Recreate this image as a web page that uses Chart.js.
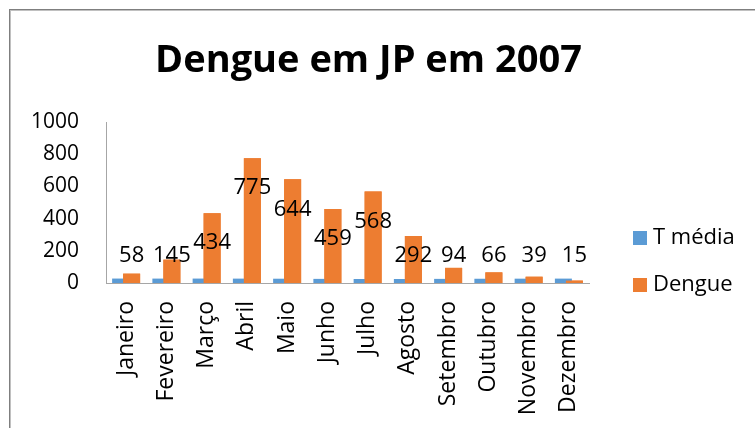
<!DOCTYPE html>
<html>
<head>
<meta charset="utf-8">
<script src="https://cdn.jsdelivr.net/npm/chart.js@4/dist/chart.umd.min.js"></script>
<style>
html,body{margin:0;padding:0;background:#fff;}
#wrap{width:755px;height:428px;position:relative;}
</style>
</head>
<body>
<div id="wrap"><canvas id="c" width="755" height="428"></canvas></div>
<script>
const titleText = 'Dengue em JP em 2007';
const categories = ['Janeiro','Fevereiro','Março','Abril','Maio','Junho','Julho','Agosto','Setembro','Outubro','Novembro','Dezembro'];
const seriesNames = ['T média','Dengue'];
const tMedia = [27.6, 27.4, 27.5, 27.2, 26.6, 25.6, 25.0, 24.9, 25.6, 26.4, 26.9, 27.3];
const dengue = [58, 145, 434, 775, 644, 459, 568, 292, 94, 66, 39, 15];
const yMin = 0, yMax = 1000, yStep = 200;

const BLUE = '#5B9BD5', ORANGE = '#ED7D31';
const FONT = "'Open Sans', 'DejaVu Sans', sans-serif";

const frame = {
  id: 'frame',
  beforeDraw(chart) {
    const ctx = chart.ctx;
    ctx.save();
    ctx.fillStyle = '#ffffff';
    ctx.fillRect(0, 0, chart.width, chart.height);
    ctx.fillStyle = '#7f7f7f';
    ctx.fillRect(9, 9, chart.width - 9, 1);
    ctx.fillRect(9, 9, 1, chart.height - 9);
    ctx.fillStyle = '#c0c0c0';
    ctx.fillRect(10, 10, chart.width - 10, 1);
    ctx.fillRect(10, 10, 1, chart.height - 10);
    ctx.restore();
  }
};

const frontAndLabels = {
  id: 'frontAndLabels',
  afterDatasetsDraw(chart) {
    const ctx = chart.ctx;
    const meta = chart.getDatasetMeta(1);
    const yScale = chart.scales.y;
    const zeroY = yScale.getPixelForValue(0);
    ctx.save();
    meta.data.forEach(el => el.draw(ctx));
    ctx.fillStyle = '#000';
    ctx.font = '22px ' + FONT;
    ctx.textAlign = 'center';
    ctx.textBaseline = 'middle';
    meta.data.forEach((el, i) => {
      const y = Math.min(el.y + 30, zeroY - 27);
      ctx.fillText(String(chart.data.datasets[1].data[i]), el.x, y);
    });
    ctx.restore();
  }
};

const sideLegend = {
  id: 'sideLegend',
  afterDraw(chart) {
    const ctx = chart.ctx;
    const x0 = chart.chartArea.right + 44;
    const ys = [238, 285];
    ctx.save();
    ctx.font = '22px ' + FONT;
    ctx.textAlign = 'left';
    ctx.textBaseline = 'middle';
    chart.data.datasets.forEach((ds, i) => {
      ctx.fillStyle = ds.backgroundColor;
      ctx.fillRect(x0, ys[i] - 7, 14, 14);
      ctx.fillStyle = '#000';
      ctx.fillText(ds.label, x0 + 20, ys[i]);
    });
    ctx.restore();
  }
};

new Chart(document.getElementById('c'), {
  type: 'bar',
  data: {
    labels: categories,
    datasets: [
      { label: seriesNames[0], data: tMedia, backgroundColor: BLUE, categoryPercentage: 22 / 40.25, barPercentage: 17 / 11 },
      { label: seriesNames[1], data: dengue, backgroundColor: ORANGE, categoryPercentage: 22 / 40.25, barPercentage: 17 / 11 }
    ]
  },
  options: {
    responsive: false,
    animation: false,
    devicePixelRatio: 1,
    layout: { padding: { left: 0, right: 18, top: 0, bottom: 0 } },
    plugins: {
      legend: { display: false },
      tooltip: { enabled: false },
      title: {
        display: true,
        text: titleText,
        color: '#000',
        font: { family: FONT, size: 38, weight: 'bold', lineHeight: 1.2 },
        padding: { top: 38, bottom: 38.4 }
      }
    },
    scales: {
      x: {
        offset: true,
        grid: { display: false, drawTicks: false },
        border: { display: true, color: '#a6a6a6', width: 1 },
        ticks: { autoSkip: false, minRotation: 90, maxRotation: 90, padding: 18, color: '#000', font: { family: FONT, size: 23 } },
        afterFit(s) { s.height = 145; }
      },
      y: {
        min: yMin, max: yMax,
        grid: { display: false, drawTicks: false },
        border: { display: true, color: '#a6a6a6', width: 1 },
        ticks: { stepSize: yStep, padding: 27, color: '#000', font: { family: FONT, size: 21 }, callback: v => String(v) },
        afterFit(s) { s.width = 106; }
      },
      yR: {
        position: 'right',
        display: true,
        grid: { display: false, drawTicks: false },
        border: { display: false },
        ticks: { display: false },
        afterFit(s) { s.width = 148; }
      }
    }
  },
  plugins: [frame, frontAndLabels, sideLegend]
});
</script>
</body>
</html>
